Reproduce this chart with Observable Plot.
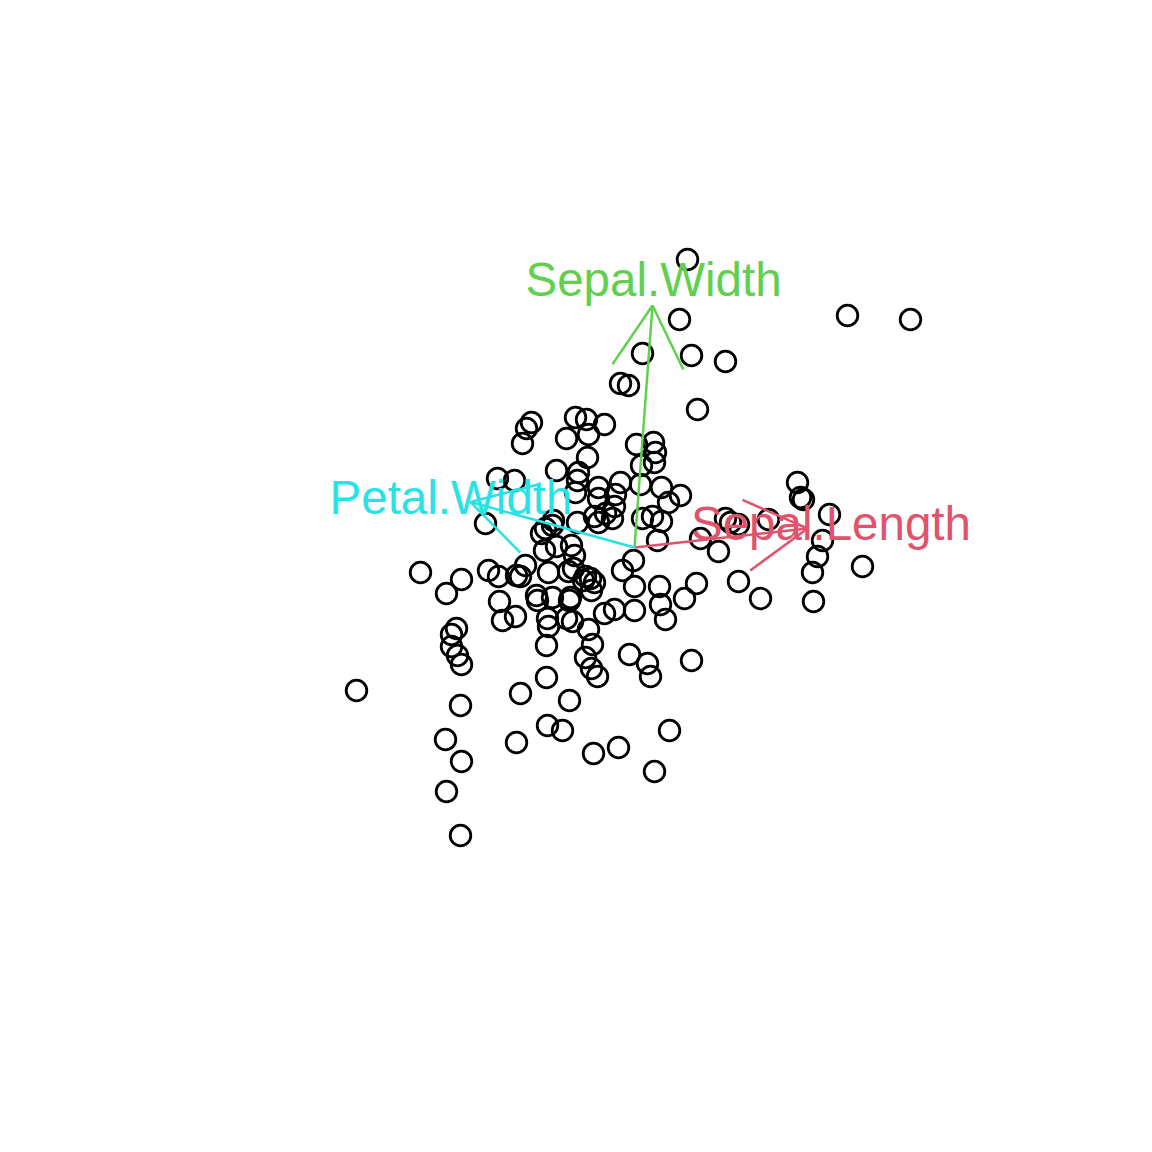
<!DOCTYPE html>
<html>
<head>
<meta charset="utf-8">
<script src="https://cdn.jsdelivr.net/npm/d3@7"></script>
<script src="https://cdn.jsdelivr.net/npm/@observablehq/plot@0.6"></script>
<style>
  html, body { margin: 0; padding: 0; background: #ffffff; }
  #chart svg { display: block; }
</style>
</head>
<body>
<div id="chart"></div>
<script>
// Point scores
const scoreX = [
  0.53, 2.13, 2.76, 0.45, 0.08, 0.57, 0.91, -0.14, -0.06, 0.63,
  -0.59, -0.48, -1.03, -1.08, -0.30, -1.12, -0.68, -0.46, 0.02, 0.19,
  0.21, 0.20, 0.07, -0.47, -0.78, -0.56, -0.57, -1.37, -1.20, 0.06,
  -0.14, 0.27, -0.36, -0.19, 0.46, 0.34, -0.36, -0.59, -0.29, -0.20,
  -0.22, -0.36, -0.40, 0.18, 0.27, 0.08, -0.57, -0.81, -0.89, -0.93,
  -1.49, 0.23, 1.63, 1.66, 1.69, 1.95, 0.91, 0.96, 1.04, 1.34,
  0.66, 0.84, 1.88, 1.83, 1.78, 2.28, 1.79, 1.04, 1.26, -0.63,
  -0.60, -0.78, -0.90, -0.01, -0.12, -1.09, -1.18, -1.14, -1.46, -1.36,
  -0.86, -0.66, -0.61, -0.44, -0.40, -0.49, -0.43, -2.14, -1.73, -1.88,
  -0.98, -0.97, -0.82, -0.64, -0.65, -1.35, -1.32, -1.19, 0.00, 0.25,
  0.50, 0.62, 0.26, 0.00, -0.20, -0.30, 0.31, -0.87, -0.86, -0.68,
  -0.62, -0.46, -0.42, -0.88, -1.78, -1.83, -1.83, -1.77, -1.73, -0.49,
  -0.43, -0.37, -0.05, 0.13, 0.16, 0.57, -0.88, -2.78, -1.14, -0.65,
  -1.74, -0.87, -0.72, 0.35, -1.89, -1.18, -0.41, -0.16, -1.73, 0.20,
  -1.88, -1.74, -0.82, -0.51
];
const scoreY = [
  2.88, 2.32, 2.28, 2.28, 1.94, 1.92, 1.86, 1.64, 1.62, 1.38,
  1.30, 1.28, 1.25, 1.19, 1.23, 1.04, 1.09, 1.13, 1.03, 1.05,
  0.95, 0.85, 0.82, 0.90, 0.77, 0.75, 0.67, 0.69, 0.67, 0.63,
  0.65, 0.60, 0.60, 0.53, 0.52, 0.45, 0.49, 0.55, 0.34, 0.41,
  0.29, 0.25, 0.31, 0.31, 0.26, 0.29, 0.25, 0.27, 0.19, 0.14,
  0.24, 0.07, 0.65, 0.50, 0.48, 0.33, 0.29, 0.25, 0.23, 0.28,
  0.09, -0.04, 0.07, -0.09, -0.25, -0.19, -0.54, -0.34, -0.51, 0.02,
  -0.08, 0.01, -0.03, -0.13, -0.23, -0.18, -0.28, -0.29, -0.23, -0.29,
  -0.25, -0.24, -0.21, -0.31, -0.35, -0.29, -0.43, -0.25, -0.32, -0.46,
  -0.48, -0.53, -0.50, -0.50, -0.53, -0.54, -0.73, -0.69, -0.39, -0.39,
  -0.51, -0.36, -0.57, -0.63, -0.62, -0.66, -0.72, -0.71, -0.79, -0.71,
  -0.74, -0.82, -0.97, -0.98, -0.81, -0.87, -0.99, -1.08, -1.17, -1.10,
  -1.21, -1.29, -1.07, -1.16, -1.29, -1.13, -1.30, -1.43, -1.46, -1.53,
  -1.58, -1.78, -1.83, -1.83, -1.92, -1.95, -2.06, -2.00, -2.14, -2.24,
  -2.44, -2.88, 0.22, -0.33
];

// Variable arrows (loadings) and their labels
const varNames = ["Sepal.Length", "Sepal.Width", "Petal.Width"];
const loadX = [1.73, 0.18, -1.64];
const loadY = [0.19, 2.42, 0.455];
const labelX = [1.965, 0.19, -1.835];
const labelY = [0.227, 2.67, 0.49];
const varColors = ["#DF536B", "#61D04F", "#28E2E5"];

// Layout / scale configuration
const W = 1152, H = 1152;
const xDomain = [-6.34, 5.18];
const yDomain = [-6.05, 5.47];
const pxPerUnit = W / (xDomain[1] - xDomain[0]);
const headPx = 71;          // arrowhead wing length in pixels
const headAngle = 30;       // degrees from shaft

const points = scoreX.map((x, i) => ({x, y: scoreY[i]}));
const vars = varNames.map((name, i) => ({
  name, x: loadX[i], y: loadY[i], lx: labelX[i], ly: labelY[i], color: varColors[i]
}));
const barbs = [];
for (const v of vars) {
  const len = Math.hypot(v.x, v.y);
  const ux = -v.x / len, uy = -v.y / len;
  const L = headPx / pxPerUnit;
  for (const s of [-1, 1]) {
    const a = s * headAngle * Math.PI / 180;
    const rx = ux * Math.cos(a) - uy * Math.sin(a);
    const ry = ux * Math.sin(a) + uy * Math.cos(a);
    barbs.push({x1: v.x, y1: v.y, x2: v.x + L * rx, y2: v.y + L * ry, color: v.color});
  }
}

const chart = Plot.plot({
  width: W,
  height: H,
  margin: 0,
  x: {domain: xDomain, axis: null},
  y: {domain: yDomain, axis: null},
  style: {background: "#ffffff"},
  marks: [
    Plot.dot(points, {x: "x", y: "y", r: 10.3, stroke: "#000000", strokeWidth: 2.8, fill: "none"}),
    Plot.link(vars, {x1: 0, y1: 0, x2: "x", y2: "y", stroke: d => d.color, strokeWidth: 2.5}),
    Plot.link(barbs, {x1: "x1", y1: "y1", x2: "x2", y2: "y2", stroke: d => d.color, strokeWidth: 2.5}),
    Plot.text(vars, {
      x: "lx", y: "ly", text: "name", fill: d => d.color,
      fontSize: 47.5, fontFamily: "Liberation Sans, Arial, sans-serif",
      textAnchor: "middle", lineAnchor: "middle"
    })
  ]
});
document.getElementById("chart").appendChild(chart);
</script>
</body>
</html>
